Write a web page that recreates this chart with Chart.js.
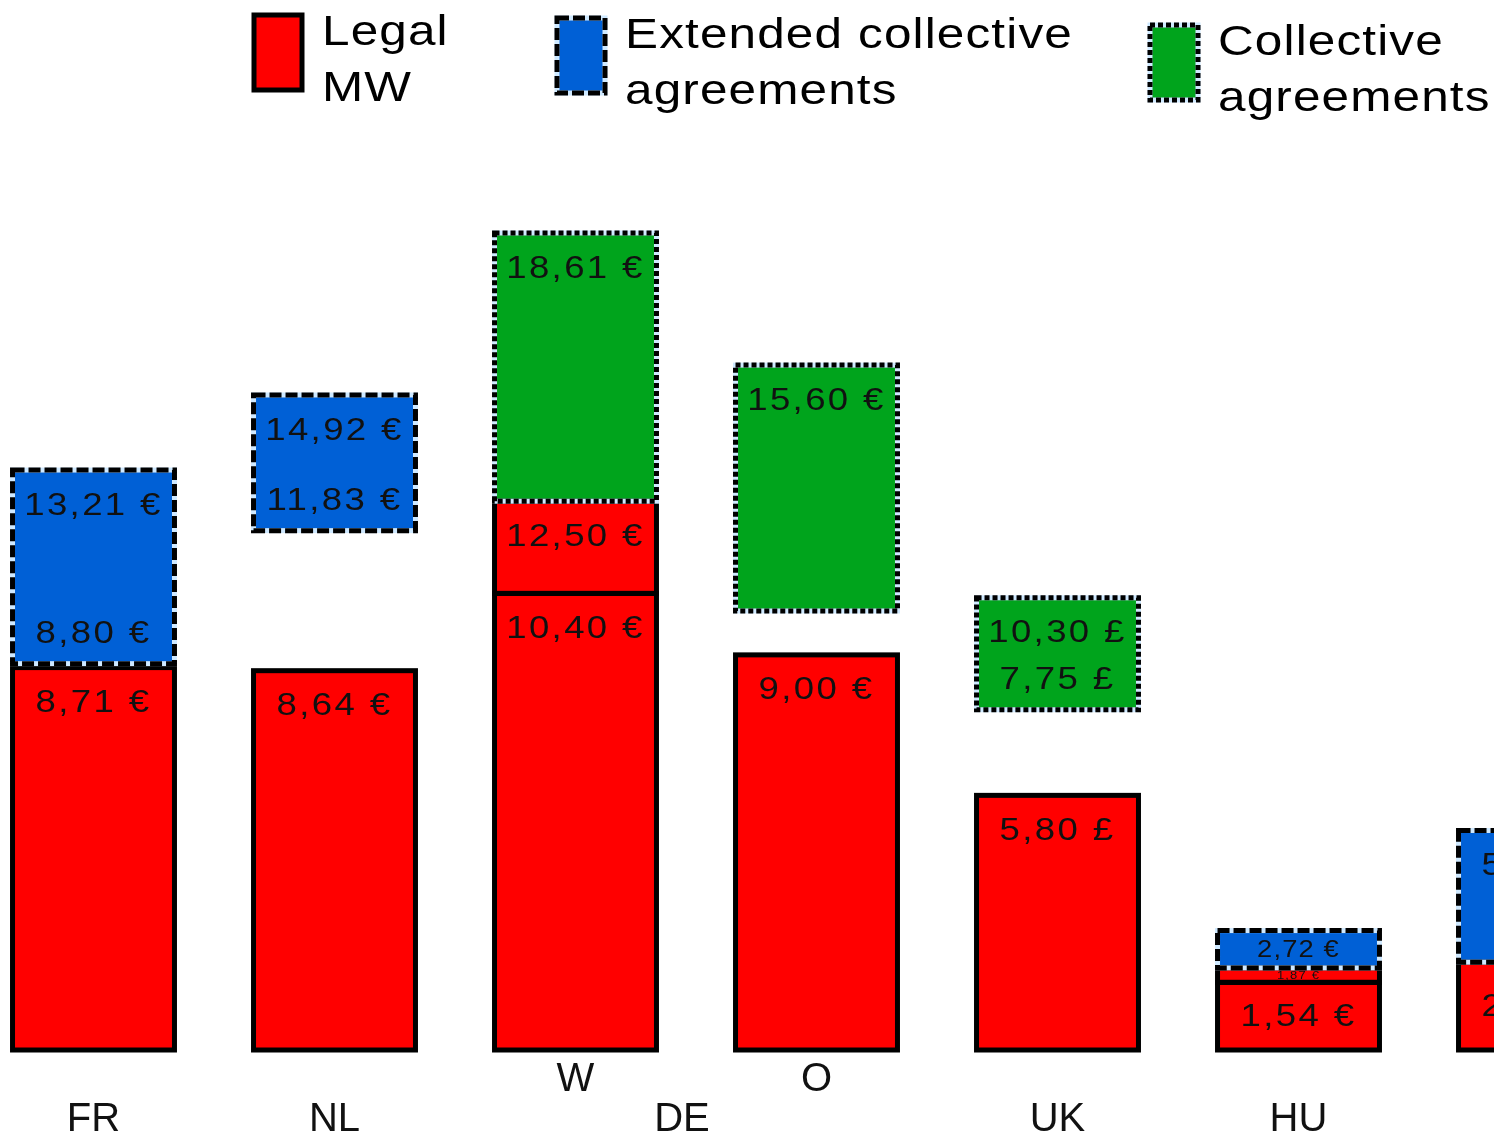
<!DOCTYPE html>
<html>
<head>
<meta charset="utf-8">
<script src="https://cdn.jsdelivr.net/npm/chart.js@4/dist/chart.umd.min.js"></script>
<style>
  html, body { margin: 0; padding: 0; background: #fff; overflow: hidden; }
  body { width: 1494px; height: 1136px; position: relative; }
  #wages { position: absolute; left: -27px; top: 0; }
</style>
</head>
<body>
<canvas id="wages" width="1687" height="1146"></canvas>
<script>
// minimum wage levels per country (hourly)
const groups = ['FR', 'NL', 'DE', 'DE', 'UK', 'HU', ''];
const subLabels = ['', '', 'W', 'O', '', '', ''];
const currency = ['€', '€', '€', '€', '£', '€', '€'];

const legalMW = [8.71, 8.64, 10.40, 9.00, 5.80, 1.54, 2.00];
const legalMWUpper = [null, null, 12.50, null, null, 1.87, null];
const extendedLow = [8.80, 11.83, null, null, null, 1.87, 2.00];
const extendedHigh = [13.21, 14.92, null, null, null, 2.72, 5.00];
const collectiveLow = [null, null, 12.50, 10.00, 7.75, null, null];
const collectiveHigh = [null, null, 18.61, 15.60, 10.30, null, null];
const extendedLowLabel = [true, true, false, false, false, false, false];
const collectiveLowLabel = [false, false, false, false, true, false, false];

const seriesNames = [['Legal', 'MW'], ['Extended collective', 'agreements'], ['Collective', 'agreements']];

const RED = '#ff0000', BLUE = '#0060d6', GREEN = '#00a41c';
const FONT = "'Liberation Sans', Arial, sans-serif";

function pairs(lo, hi) {
    return lo.map((v, i) => (v == null || hi[i] == null) ? null : [v, hi[i]]);
}

function fmt(v, i) {
    return v.toFixed(2).replace('.', ',') + ' ' + currency[i];
}

function strokeOutline(ctx, x, y, w, h, outline) {
    ctx.save();
    ctx.lineWidth = 5;
    if (outline !== 'solid') {
        ctx.strokeStyle = '#cfe9ff';
        ctx.strokeRect(x, y, w, h);
        ctx.setLineDash(outline === 'dashed' ? [12, 4] : [5, 3]);
    }
    ctx.strokeStyle = '#000';
    ctx.strokeRect(x, y, w, h);
    ctx.restore();
}

// wide text like the original export
function wideText(ctx, text, x, y, stretch) {
    ctx.save();
    ctx.translate(x, y);
    ctx.scale(stretch, 1);
    ctx.fillText(text, 0, 0);
    ctx.restore();
}

const tickLabels = groups.map((g, i) => {
    const span = groups.filter(x => x === g).length;
    return [subLabels[i], span > 1 ? '' : g];
});

const outlines = {
    id: 'outlines',
    afterDatasetsDraw(chart) {
        const ctx = chart.ctx;
        chart.data.datasets.forEach((ds, d) => {
            chart.getDatasetMeta(d).data.forEach((bar, i) => {
                if (ds.data[i] == null) return;
                const p = bar.getProps(['x', 'y', 'base', 'width'], true);
                const top = Math.min(p.y, p.base), h = Math.abs(p.base - p.y);
                strokeOutline(ctx, p.x - p.width / 2, top, p.width, h, ds.outline);
            });
        });
    }
};

const valueLabels = {
    id: 'valueLabels',
    afterDatasetsDraw(chart) {
        const ctx = chart.ctx;
        ctx.save();
        ctx.fillStyle = '#111';
        ctx.textAlign = 'center';
        ctx.textBaseline = 'middle';
        chart.data.datasets.forEach((ds, d) => {
            chart.getDatasetMeta(d).data.forEach((bar, i) => {
                const raw = ds.data[i];
                if (raw == null) return;
                const hi = Array.isArray(raw) ? raw[1] : raw;
                const lo = Array.isArray(raw) ? raw[0] : 0;
                const p = bar.getProps(['x', 'y', 'base'], true);
                const h = Math.abs(p.base - p.y);
                const size = Math.max(11, Math.min(31, h * 0.62));
                ctx.font = size + 'px ' + FONT;
                ctx.letterSpacing = Math.round(size / 16) + 'px';
                if (h < 90) {
                    wideText(ctx, fmt(hi, i), p.x, (p.y + p.base) / 2 + 1, 1.18);
                    return;
                }
                wideText(ctx, fmt(hi, i), p.x, p.y + 36, 1.18);
                if (ds.lowLabel && ds.lowLabel[i]) wideText(ctx, fmt(lo, i), p.x, p.base - 29, 1.18);
            });
        });
        ctx.restore();
    }
};

const groupLabels = {
    id: 'groupLabels',
    afterDraw(chart) {
        const ctx = chart.ctx, xs = chart.scales.x;
        const opts = xs.options.ticks;
        const lh = opts.font.size * opts.font.lineHeight;
        const items = xs.getLabelItems();
        ctx.save();
        ctx.fillStyle = opts.color;
        ctx.font = opts.font.size + 'px ' + FONT;
        ctx.textAlign = 'center';
        [...new Set(groups)].forEach(g => {
            const idx = groups.map((x, i) => x === g ? i : -1).filter(i => i >= 0);
            if (idx.length < 2) return;
            const x = (xs.getPixelForValue(idx[0]) + xs.getPixelForValue(idx[idx.length - 1])) / 2 - 14;
            const it = items[idx[0]];
            ctx.textBaseline = it.options.textBaseline;
            ctx.fillText(g, x, it.options.translation[1] + it.textOffset + lh);
        });
        ctx.restore();
    }
};

const legendBoxes = {
    id: 'legendBoxes',
    afterDraw(chart) {
        const ctx = chart.ctx;
        const spots = [[281, 15], [584, 18], [1177, 25]];
        const fills = [RED, BLUE, GREEN];
        const lines = ['solid', 'dashed', 'dotted'];
        ctx.save();
        seriesNames.forEach((names, k) => {
            const [x, y] = spots[k];
            ctx.fillStyle = fills[k];
            ctx.fillRect(x, y, 48, 75);
            strokeOutline(ctx, x, y, 48, 75, lines[k]);
            ctx.fillStyle = '#000';
            ctx.font = '43px ' + FONT;
            ctx.letterSpacing = '1px';
            ctx.textBaseline = 'alphabetic';
            names.forEach((t, j) => wideText(ctx, t, x + 68, y + 30 + j * 56, 1.15));
        });
        ctx.restore();
    }
};

new Chart(document.getElementById('wages'), {
    type: 'bar',
    data: {
        labels: tickLabels,
        datasets: [
            { label: seriesNames[0].join(' '), data: legalMW, backgroundColor: RED, outline: 'solid' },
            { label: seriesNames[0].join(' '), data: pairs(legalMW, legalMWUpper), backgroundColor: RED, outline: 'solid' },
            { label: seriesNames[1].join(' '), data: pairs(extendedLow, extendedHigh), backgroundColor: BLUE, outline: 'dashed', lowLabel: extendedLowLabel },
            { label: seriesNames[2].join(' '), data: pairs(collectiveLow, collectiveHigh), backgroundColor: GREEN, outline: 'dotted', lowLabel: collectiveLowLabel }
        ]
    },
    options: {
        responsive: false,
        animation: false,
        devicePixelRatio: 1,
        layout: { padding: { top: 150, bottom: 4, left: 0, right: 0 } },
        datasets: {
            bar: { grouped: false, barPercentage: 0.672, categoryPercentage: 1, borderWidth: 0 }
        },
        scales: {
            x: {
                grid: { display: false },
                border: { display: false },
                ticks: {
                    color: '#111',
                    padding: 2,
                    autoSkip: false,
                    maxRotation: 0,
                    font: { family: FONT, size: 40, lineHeight: 1.0 }
                }
            },
            y: { display: false, min: 0, max: 20.5 }
        },
        plugins: {
            legend: { display: false },
            tooltip: { enabled: false }
        }
    },
    plugins: [outlines, valueLabels, groupLabels, legendBoxes]
});
</script>
</body>
</html>
